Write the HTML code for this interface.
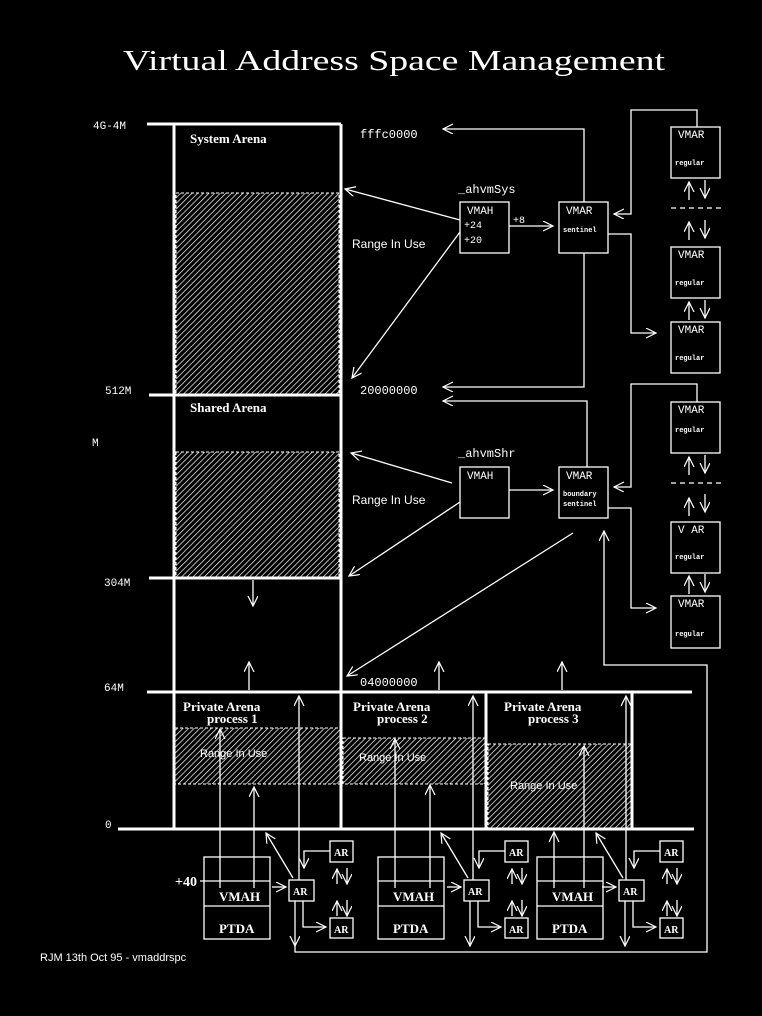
<!DOCTYPE html>
<html><head><meta charset="utf-8"><style>
html,body{margin:0;padding:0;background:#000;}
svg{display:block;}
.s{font-family:"Liberation Serif",serif;fill:#fff;}
.m{font-family:"Liberation Mono",monospace;fill:#fff;}
.a{font-family:"Liberation Sans",sans-serif;fill:#fff;}
</style></head><body>
<svg width="762" height="1016" viewBox="0 0 762 1016" xmlns="http://www.w3.org/2000/svg">
<defs>
<marker id="ar" markerWidth="12" markerHeight="12" refX="10" refY="5" orient="auto" markerUnits="userSpaceOnUse">
<path d="M0,0 L10,5 L0,10" fill="none" stroke="#fff" stroke-width="1.2"/></marker>
<pattern id="h" width="4" height="4" patternUnits="userSpaceOnUse" patternTransform="rotate(-45)">
<rect width="4" height="4" fill="#000"/><line x1="0" y1="0" x2="4" y2="0" stroke="#fff" stroke-width="1.4"/></pattern>
</defs>
<rect width="762" height="1016" fill="#000"/>
<text x="123" y="70" class="s" font-size="28" textLength="542" lengthAdjust="spacingAndGlyphs">Virtual Address Space Management</text>

<g stroke="#fff" stroke-width="1" stroke-dasharray="3,2">
<rect x="176" y="193" width="163" height="202" fill="url(#h)"/>
<rect x="176" y="452" width="163" height="126" fill="url(#h)"/>
<rect x="175" y="728" width="165" height="56" fill="url(#h)"/>
<rect x="343" y="738" width="142" height="46" fill="url(#h)"/>
<rect x="488" y="744" width="143" height="85" fill="url(#h)"/>
</g>

<g stroke="#fff" stroke-width="3" fill="none">
<line x1="147" y1="124" x2="341" y2="124"/>
<line x1="149" y1="395" x2="341" y2="395"/>
<line x1="149" y1="578" x2="341" y2="578"/>
<line x1="147" y1="692" x2="692" y2="692"/>
<line x1="118" y1="829" x2="694" y2="829"/>
<line x1="174" y1="124" x2="174" y2="829"/>
<line x1="341" y1="124" x2="341" y2="829"/>
<line x1="486" y1="692" x2="486" y2="829"/>
<line x1="632" y1="692" x2="632" y2="829"/>
</g>

<g class="s" font-size="13" font-weight="bold">
<text x="190" y="143">System Arena</text>
<text x="190" y="412">Shared Arena</text>
<text x="183" y="711">Private Arena</text><text x="207" y="723">process 1</text>
<text x="353" y="711">Private Arena</text><text x="377" y="723">process 2</text>
<text x="504" y="711">Private Arena</text><text x="528" y="723">process 3</text>
</g>
<g class="m" font-size="11">
<text x="93" y="129">4G-4M</text><text x="105" y="394">512M</text>
<text x="92" y="446">M</text><text x="104" y="586">304M</text>
<text x="104" y="691">64M</text><text x="105" y="828">0</text>
</g>
<g class="m" font-size="12">
<text x="360" y="138">fffc0000</text><text x="360" y="394">20000000</text>
<text x="360" y="686">04000000</text>
<text x="458" y="193">_ahvmSys</text><text x="458" y="457">_ahvmShr</text>
</g>
<g class="a" font-size="12">
<text x="352" y="248">Range In Use</text><text x="352" y="504">Range In Use</text>
</g>
<g class="a" font-size="11">
<text x="200" y="757">Range In Use</text><text x="359" y="761">Range In Use</text><text x="510" y="789">Range In Use</text>
<text x="40" y="961">RJM 13th Oct 95 - vmaddrspc</text>
</g>

<g stroke="#fff" stroke-width="1.3" fill="none">
<line x1="253" y1="580" x2="253" y2="606" marker-end="url(#ar)"/>
<line x1="249" y1="690" x2="249" y2="662" marker-end="url(#ar)"/>
<line x1="439" y1="690" x2="439" y2="662" marker-end="url(#ar)"/>
<line x1="562" y1="690" x2="562" y2="662" marker-end="url(#ar)"/>

<rect x="460" y="202" width="49" height="51"/>
<rect x="559" y="202" width="49" height="51"/>
<line x1="509" y1="226" x2="553" y2="226" marker-end="url(#ar)"/>
<polyline points="584,202 584,129 443,129" marker-end="url(#ar)"/>
<polyline points="584,253 584,387 443,387" marker-end="url(#ar)"/>
<line x1="460" y1="220" x2="345" y2="189" marker-end="url(#ar)"/>
<line x1="460" y1="232" x2="352" y2="378" marker-end="url(#ar)"/>
<polyline points="697,127 697,110 631,110 631,214 614,214" marker-end="url(#ar)"/>
<polyline points="608,234 631,234 631,333 656,333" marker-end="url(#ar)"/>
<rect x="671" y="127" width="49" height="51"/>
<rect x="671" y="247" width="49" height="51"/>
<rect x="671" y="322" width="49" height="51"/>
<line x1="671" y1="208" x2="722" y2="208" stroke-dasharray="5,4"/>

<rect x="460" y="467" width="49" height="51"/>
<rect x="559" y="467" width="49" height="51"/>
<line x1="509" y1="490" x2="553" y2="490" marker-end="url(#ar)"/>
<polyline points="587,467 587,401 443,401" marker-end="url(#ar)"/>
<line x1="452" y1="483" x2="351" y2="453" marker-end="url(#ar)"/>
<line x1="460" y1="502" x2="349" y2="576" marker-end="url(#ar)"/>
<line x1="573" y1="533" x2="347" y2="676" marker-end="url(#ar)"/>
<polyline points="697,402 697,384 631,384 631,487 614,487" marker-end="url(#ar)"/>
<polyline points="608,508 631,508 631,608 656,608" marker-end="url(#ar)"/>
<rect x="671" y="402" width="49" height="51"/>
<rect x="671" y="522" width="49" height="51"/>
<rect x="671" y="596" width="49" height="52"/>
<line x1="671" y1="483" x2="722" y2="483" stroke-dasharray="5,4"/>

<g>
<line x1="689" y1="200" x2="689" y2="182" marker-end="url(#ar)"/><line x1="705" y1="180" x2="705" y2="198" marker-end="url(#ar)"/>
<line x1="689" y1="240" x2="689" y2="222" marker-end="url(#ar)"/><line x1="705" y1="220" x2="705" y2="238" marker-end="url(#ar)"/>
<line x1="689" y1="320" x2="689" y2="302" marker-end="url(#ar)"/><line x1="705" y1="300" x2="705" y2="318" marker-end="url(#ar)"/>
<line x1="689" y1="475" x2="689" y2="457" marker-end="url(#ar)"/><line x1="705" y1="455" x2="705" y2="473" marker-end="url(#ar)"/>
<line x1="689" y1="516" x2="689" y2="498" marker-end="url(#ar)"/><line x1="705" y1="494" x2="705" y2="512" marker-end="url(#ar)"/>
<line x1="689" y1="594" x2="689" y2="576" marker-end="url(#ar)"/><line x1="705" y1="574" x2="705" y2="592" marker-end="url(#ar)"/>
</g>

<polyline points="295,946 295,952 707,952 707,665 604,665 604,531" marker-end="url(#ar)"/>
</g>

<g class="m" font-size="11">
<text x="566" y="214">VMAR</text><text x="467" y="214">VMAH</text>
<text x="464" y="228" font-size="10">+24</text><text x="464" y="243" font-size="10">+20</text>
<text x="513" y="223" font-size="10">+8</text>
<text x="566" y="479">VMAR</text><text x="467" y="479">VMAH</text>
<text x="678" y="138">VMAR</text><text x="678" y="258">VMAR</text><text x="678" y="333">VMAR</text>
<text x="678" y="413">VMAR</text><text x="678" y="533">V AR</text><text x="678" y="607">VMAR</text>
</g>
<g class="m" font-size="7" font-weight="bold">
<text x="563" y="232">sentinel</text>
<text x="563" y="496">boundary</text><text x="563" y="506">sentinel</text>
<text x="675" y="165">regular</text><text x="675" y="285">regular</text><text x="675" y="360">regular</text>
<text x="675" y="432">regular</text><text x="675" y="559">regular</text><text x="675" y="636">regular</text>
</g>

<g stroke="#fff" stroke-width="1.3" fill="none">
<line x1="220" y1="888" x2="220" y2="729" marker-end="url(#ar)"/>
<line x1="254" y1="888" x2="254" y2="787" marker-end="url(#ar)"/>
<line x1="299" y1="880" x2="299" y2="696" marker-end="url(#ar)"/>
<line x1="395" y1="888" x2="395" y2="739" marker-end="url(#ar)"/>
<line x1="430" y1="888" x2="430" y2="785" marker-end="url(#ar)"/>
<line x1="473" y1="880" x2="473" y2="696" marker-end="url(#ar)"/>
<line x1="554" y1="888" x2="554" y2="832" marker-end="url(#ar)"/>
<line x1="584" y1="888" x2="584" y2="746" marker-end="url(#ar)"/>
<line x1="626" y1="880" x2="626" y2="696" marker-end="url(#ar)"/>
</g>

<g stroke="#fff" stroke-width="1.3" fill="none">
<rect x="204" y="857" width="66" height="82"/>
<line x1="200" y1="881" x2="270" y2="881"/>
<line x1="204" y1="906" x2="270" y2="906"/>
<line x1="272" y1="887" x2="286" y2="887" marker-end="url(#ar)"/>
<rect x="289" y="880" width="25" height="21"/>
<rect x="330" y="841" width="23" height="21"/>
<rect x="330" y="918" width="23" height="20"/>
<polyline points="330,851 304,851 304,868" marker-end="url(#ar)"/>
<polyline points="303,901 303,927 326,927" marker-end="url(#ar)"/>
<line x1="295" y1="901" x2="295" y2="946" marker-end="url(#ar)"/>
<line x1="293" y1="878" x2="266" y2="833" marker-end="url(#ar)"/>
<line x1="337" y1="884" x2="337" y2="869" marker-end="url(#ar)"/>
<line x1="347" y1="868" x2="347" y2="884" marker-end="url(#ar)"/>
<line x1="337" y1="916" x2="337" y2="901" marker-end="url(#ar)"/>
<line x1="347" y1="900" x2="347" y2="916" marker-end="url(#ar)"/>
</g>
<g class="s" font-weight="bold">
<text x="175" y="886" font-size="14">+40</text>
<text x="219" y="901" font-size="13">VMAH</text><text x="219" y="933" font-size="13">PTDA</text>
<text x="293" y="895" font-size="10">AR</text><text x="334" y="856" font-size="10">AR</text><text x="334" y="933" font-size="10">AR</text>
</g>
<g transform="translate(174,0)">
<g stroke="#fff" stroke-width="1.3" fill="none">
<rect x="204" y="857" width="66" height="82"/>
<line x1="204" y1="881" x2="270" y2="881"/><line x1="204" y1="906" x2="270" y2="906"/>
</g></g>
<g transform="translate(175,0)">
<g stroke="#fff" stroke-width="1.3" fill="none">
<line x1="272" y1="887" x2="286" y2="887" marker-end="url(#ar)"/>
<rect x="289" y="880" width="25" height="21"/><rect x="330" y="841" width="23" height="21"/><rect x="330" y="918" width="23" height="20"/>
<polyline points="330,851 304,851 304,868" marker-end="url(#ar)"/>
<polyline points="303,901 303,927 326,927" marker-end="url(#ar)"/>
<line x1="295" y1="901" x2="295" y2="946" marker-end="url(#ar)"/>
<line x1="293" y1="878" x2="266" y2="833" marker-end="url(#ar)"/>
<line x1="337" y1="884" x2="337" y2="869" marker-end="url(#ar)"/><line x1="347" y1="868" x2="347" y2="884" marker-end="url(#ar)"/>
<line x1="337" y1="916" x2="337" y2="901" marker-end="url(#ar)"/><line x1="347" y1="900" x2="347" y2="916" marker-end="url(#ar)"/>
</g>
<g class="s" font-weight="bold"><text x="293" y="895" font-size="10">AR</text><text x="334" y="856" font-size="10">AR</text><text x="334" y="933" font-size="10">AR</text></g>
</g>
<g transform="translate(333,0)">
<g stroke="#fff" stroke-width="1.3" fill="none">
<rect x="204" y="857" width="66" height="82"/>
<line x1="204" y1="881" x2="270" y2="881"/><line x1="204" y1="906" x2="270" y2="906"/>
</g></g>
<g transform="translate(330,0)">
<g stroke="#fff" stroke-width="1.3" fill="none">
<line x1="272" y1="887" x2="286" y2="887" marker-end="url(#ar)"/>
<rect x="289" y="880" width="25" height="21"/><rect x="330" y="841" width="23" height="21"/><rect x="330" y="918" width="23" height="20"/>
<polyline points="330,851 304,851 304,868" marker-end="url(#ar)"/>
<polyline points="303,901 303,927 326,927" marker-end="url(#ar)"/>
<line x1="295" y1="901" x2="295" y2="946" marker-end="url(#ar)"/>
<line x1="293" y1="878" x2="266" y2="833" marker-end="url(#ar)"/>
<line x1="337" y1="884" x2="337" y2="869" marker-end="url(#ar)"/><line x1="347" y1="868" x2="347" y2="884" marker-end="url(#ar)"/>
<line x1="337" y1="916" x2="337" y2="901" marker-end="url(#ar)"/><line x1="347" y1="900" x2="347" y2="916" marker-end="url(#ar)"/>
</g>
<g class="s" font-weight="bold"><text x="293" y="895" font-size="10">AR</text><text x="334" y="856" font-size="10">AR</text><text x="334" y="933" font-size="10">AR</text></g>
</g>
<g class="s" font-weight="bold" font-size="13">
<text x="393" y="901">VMAH</text><text x="393" y="933">PTDA</text>
<text x="552" y="901">VMAH</text><text x="552" y="933">PTDA</text>
</g>
</svg>
</body></html>
